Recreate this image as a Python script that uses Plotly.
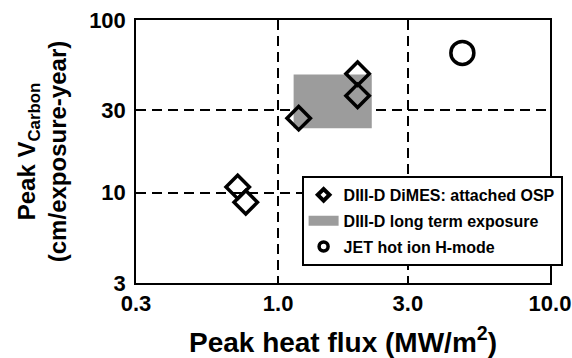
import numpy as np
import plotly.graph_objects as go

# ---- data ----
dimes_name = "DIII-D DiMES: attached OSP"
dimes_flux = [1.19, 1.96, 1.96, 0.71, 0.76]
dimes_v = [27.0, 48.9, 36.4, 10.8, 8.8]

long_name = "DIII-D long term exposure"
long_flux = [1.14, 2.21]   # min, max
long_v = [23.6, 48.3]      # min, max

jet_name = "JET hot ion H-mode"
jet_flux = [4.76]
jet_v = [64.5]

x_ticks = [0.3, 1.0, 3.0, 10.0]
x_ticktext = ["0.3", "1.0", "3.0", "10.0"]
y_ticks = [3, 10, 30, 100]
y_ticktext = ["3", "10", "30", "100"]

FONT = "Liberation Sans, Arial, sans-serif"
GRAY = "#9c9c9c"

fig = go.Figure()

# data traces (legend entries come from the key traces below)
fig.add_trace(go.Scatter(
    x=[long_flux[0], long_flux[1], long_flux[1], long_flux[0], long_flux[0]],
    y=[long_v[0], long_v[0], long_v[1], long_v[1], long_v[0]],
    fill="toself", fillcolor=GRAY, mode="lines",
    line=dict(width=0, color=GRAY), name=long_name, showlegend=False,
))
fig.add_trace(go.Scatter(
    x=dimes_flux, y=dimes_v, mode="markers", name=dimes_name, showlegend=False,
    marker=dict(symbol="diamond-open", size=18, color="black",
                line=dict(width=3.5, color="black")),
))
fig.add_trace(go.Scatter(
    x=jet_flux, y=jet_v, mode="markers", name=jet_name, showlegend=False,
    marker=dict(symbol="circle-open", size=23, color="black",
                line=dict(width=3.5, color="black")),
))

# legend keys
fig.add_trace(go.Scatter(
    x=[None], y=[None], mode="markers", name=dimes_name, legendgroup="a",
    marker=dict(symbol="diamond-open", size=9, color="black",
                line=dict(width=4, color="black")),
))
fig.add_trace(go.Scatter(
    x=[None], y=[None], mode="lines", name=long_name, legendgroup="b",
    line=dict(width=14, color=GRAY),
))
fig.add_trace(go.Scatter(
    x=[None], y=[None], mode="markers", name=jet_name, legendgroup="c",
    marker=dict(symbol="circle-open", size=9, color="black",
                line=dict(width=3.5, color="black")),
))

grid = dict(showgrid=True, gridcolor="black", gridwidth=1.5, griddash="10px,6px")

fig.update_layout(
    width=572, height=358,
    margin=dict(l=136, r=22, t=20, b=75, autoexpand=False),
    paper_bgcolor="white", plot_bgcolor="white",
    font=dict(family=FONT, color="black", size=18, weight="bold"),
    showlegend=True,
    legend=dict(
        x=0.40, y=0.407, xanchor="left", yanchor="top",
        bgcolor="white", bordercolor="black", borderwidth=2,
        traceorder="grouped", tracegroupgap=2,
        font=dict(family=FONT, size=16, color="black", weight="bold"),
    ),
    xaxis=dict(
        type="log", range=[np.log10(0.3), 1.0], automargin=False,
        tickvals=x_ticks, ticktext=x_ticktext,
        ticks="",
        showline=True, linecolor="black", linewidth=1.5, mirror=True,
        tickfont=dict(size=22),
        title=dict(text="Peak heat flux (MW/m<sup>2</sup>)",
                   font=dict(size=28), standoff=17),
        **grid,
    ),
    yaxis=dict(
        type="log", range=[np.log10(3), 2.0], automargin=False,
        tickvals=y_ticks, ticktext=y_ticktext,
        ticks="outside", ticklen=4, tickcolor="rgba(0,0,0,0)",
        showline=True, linecolor="black", linewidth=1.5, mirror=True,
        tickfont=dict(size=22),
        title=dict(text="Peak V<sub>Carbon</sub><br>(cm/exposure-year)",
                   font=dict(size=24), standoff=16),
        **grid,
    ),
)

fig.write_html(
    "out.html",
    config={"displayModeBar": False},
    post_script="document.body.style.margin='0';document.body.style.overflow='hidden';",
)
